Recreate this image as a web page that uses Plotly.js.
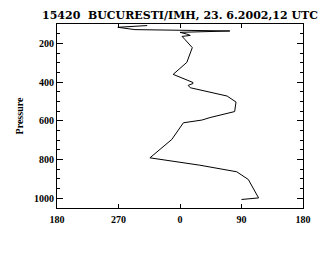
<!DOCTYPE html>
<html>
<head>
<meta charset="utf-8">
<script src="https://cdn.plot.ly/plotly-3.0.1.min.js"></script>
<style>html,body{margin:0;padding:0;background:#fff;}#chart{width:320px;height:256px;}</style>
</head>
<body>
<div id="chart"></div>
<script>
// Wind direction (degrees, plotted on a -180..180 scale where 270 = -90) vs pressure (hPa)
var direction = [90, 115, 100, 83, 29, -44, -12, 5, 32, 44, 80, 82, 69, 15, 12, 19, 19, 7, -10, 10, 18, 7, 3, 15, 10, 0, 73, -66, -91, -48];
var pressure  = [1006, 998, 903, 863, 829, 791, 696, 610, 596, 583, 552, 503, 472, 429, 417, 407, 402, 386, 360, 298, 222, 179, 164, 159, 152, 143, 136, 129, 117, 108];
var xTickVals = [-180, -90, 0, 90, 180];
var xTickText = ['180', '270', '0', '90', '180'];
var yTickVals = [200, 400, 600, 800, 1000];

var fontFam = '"Liberation Serif", "DejaVu Serif", serif';
var titleFam = '"DejaVu Serif", "Liberation Serif", serif';

var trace = {
  x: direction,
  y: pressure,
  mode: 'lines',
  type: 'scatter',
  line: {color: '#000', width: 1},
  hoverinfo: 'none'
};

var layout = {
  width: 320,
  height: 256,
  margin: {l: 57, r: 17, t: 24, b: 48, pad: 0},
  paper_bgcolor: '#fff',
  plot_bgcolor: '#fff',
  showlegend: false,
  title: {
    text: '<b>15420  BUCURESTI/IMH, 23. 6.2002,12 UTC</b>',
    font: {family: titleFam, size: 11, color: '#000'},
    x: 0.5625, xanchor: 'center',
    y: 0.94, yanchor: 'middle'
  },
  xaxis: {
    range: [-180, 180],
    tickmode: 'array',
    tickvals: xTickVals,
    ticktext: xTickText,
    ticks: 'inside',
    ticklen: 4,
    tickwidth: 1,
    tickcolor: '#000',
    ticklabelstandoff: 2,
    showline: true,
    linecolor: '#000',
    linewidth: 1,
    mirror: 'ticks',
    showgrid: false,
    zeroline: false,
    tickfont: {family: fontFam, size: 10, color: '#000', weight: 'bold'}
  },
  yaxis: {
    range: [1050, 100],
    tickmode: 'array',
    tickvals: yTickVals,
    ticks: 'inside',
    ticklen: 6,
    tickwidth: 1,
    tickcolor: '#000',
    minor: {dtick: 50, tick0: 0, ticks: 'inside', ticklen: 3, tickcolor: '#000', tickwidth: 1, showgrid: false},
    showline: true,
    linecolor: '#000',
    linewidth: 1,
    mirror: 'ticks',
    showgrid: false,
    zeroline: false,
    tickfont: {family: fontFam, size: 10, color: '#000', weight: 'bold'},
    title: {text: '<b>Pressure</b>', font: {family: fontFam, size: 10, color: '#000'}, standoff: 8}
  }
};

Plotly.newPlot('chart', [trace], layout, {staticPlot: true, displayModeBar: false});
</script>
</body>
</html>
